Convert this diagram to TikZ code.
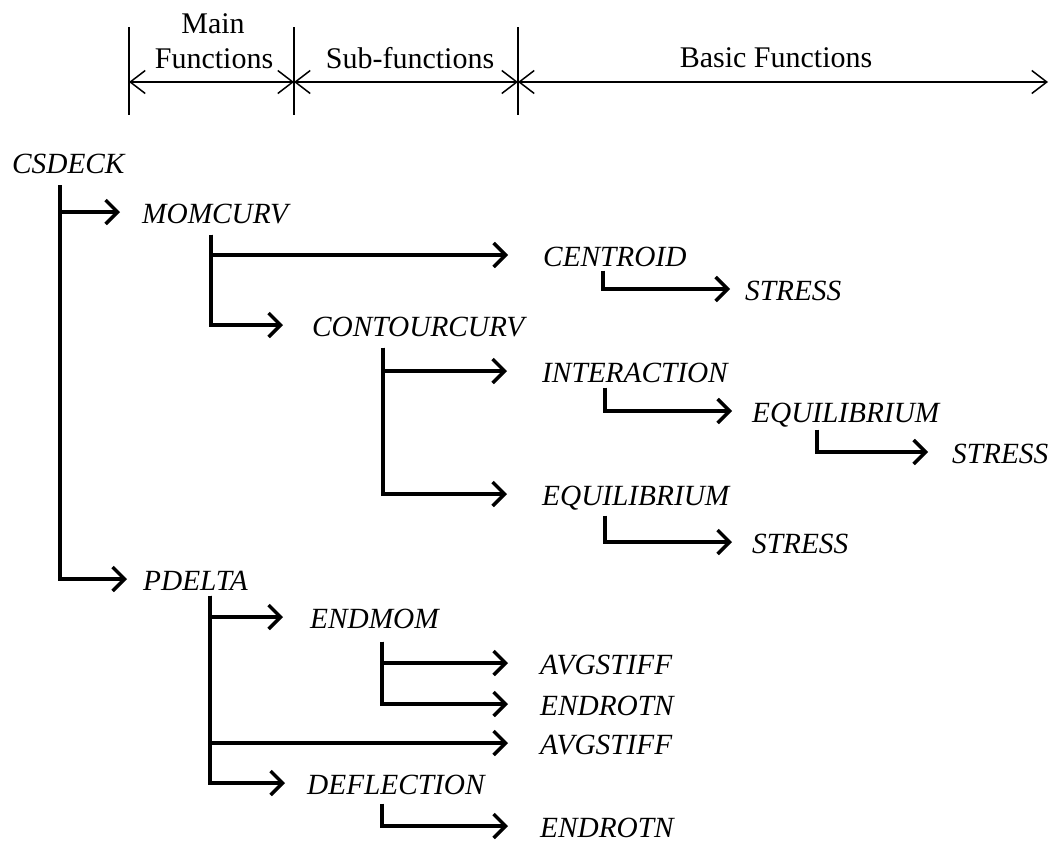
\documentclass[tikz,border=0pt]{standalone}
\usepackage{fontspec}
\setmainfont{Liberation Serif}
\usetikzlibrary{arrows.meta}
\begin{document}
\begin{tikzpicture}[x=1pt,y=-1pt,
  fn/.style={font=\fontsize{29.3}{35}\selectfont\itshape, inner sep=0pt, anchor=west, text height=23pt, text depth=0pt},
  hdr/.style={font=\fontsize{30}{36}\selectfont, inner sep=0pt, anchor=base},
  tree/.style={line width=3.4pt, -{Straight Barb[length=12pt,width=24pt]}},
  dimarrow/.style={line width=1.5pt, {Straight Barb[length=15pt,width=23pt]}-{Straight Barb[length=15pt,width=23pt]}},
  bar/.style={line width=1.5pt}]
\useasboundingbox (0,0) rectangle (1052,844);

% header
\coordinate (b1) at (129,82);
\coordinate (b2) at (294,82);
\coordinate (b3) at (518,82);
\coordinate (b4) at (1048,82);
\foreach \xx in {129,294,518} { \draw[bar] (\xx,27) -- (\xx,115); }
\draw[dimarrow] (b1) -- (b2);
\draw[dimarrow] (b2) -- (b3);
\draw[dimarrow] (b3) -- (b4);
\node[hdr] (hmain) at (213,33) {Main};
\node[hdr] (hfun) at (214,68) {Functions};
\node[hdr] (hsub) at (410,68) {Sub-functions};
\node[hdr] (hbasic) at (776,67) {Basic Functions};

% tree nodes
\node[fn] (csdeck) at (12,161.5) {CSDECK};
\node[fn] (momcurv) at (142,212) {MOMCURV};
\node[fn] (centroid) at (543,255) {CENTROID};
\node[fn] (stressA) at (745,289) {STRESS};
\node[fn] (contour) at (312,325) {CONTOURCURV};
\node[fn] (interact) at (542,371) {INTERACTION};
\node[fn] (equilA) at (752,411) {EQUILIBRIUM};
\node[fn] (stressB) at (952,452) {STRESS};
\node[fn] (equilB) at (542,494) {EQUILIBRIUM};
\node[fn] (stressC) at (752,542) {STRESS};
\node[fn] (pdelta) at (143,579) {PDELTA};
\node[fn] (endmom) at (310,617) {ENDMOM};
\node[fn] (avgA) at (540,663) {AVGSTIFF};
\node[fn] (endrotnA) at (540,704) {ENDROTN};
\node[fn] (avgB) at (540,743) {AVGSTIFF};
\node[fn] (deflect) at (307,783) {DEFLECTION};
\node[fn] (endrotnB) at (540,826) {ENDROTN};

% connectors
\draw[tree] ([xshift=48pt,yshift=-12pt]csdeck.south west) |- ([xshift=-22pt]momcurv.west);
\draw[tree] ([xshift=48pt,yshift=-12pt]csdeck.south west) |- ([xshift=-16pt]pdelta.west);

\draw[tree] ([xshift=69pt,yshift=-11pt]momcurv.south west) |- ([xshift=-35pt]centroid.west);
\draw[tree] ([xshift=69pt,yshift=-11pt]momcurv.south west) |- ([xshift=-29pt]contour.west);

\draw[tree] ([xshift=60pt,yshift=-4pt]centroid.south west) |- ([xshift=-15pt]stressA.west);

\draw[tree] ([xshift=71pt,yshift=-11pt]contour.south west) |- ([xshift=-35pt]interact.west);
\draw[tree] ([xshift=71pt,yshift=-11pt]contour.south west) |- ([xshift=-35pt]equilB.west);

\draw[tree] ([xshift=63pt,yshift=-5pt]interact.south west) |- ([xshift=-20pt]equilA.west);
\draw[tree] ([xshift=65pt,yshift=-7pt]equilA.south west) |- ([xshift=-24pt]stressB.west);
\draw[tree] ([xshift=63pt,yshift=-10pt]equilB.south west) |- ([xshift=-20pt]stressC.west);

\draw[tree] ([xshift=67pt,yshift=-5pt]pdelta.south west) |- ([xshift=-27pt]endmom.west);
\draw[tree] ([xshift=67pt,yshift=-5pt]pdelta.south west) |- ([xshift=-32pt]avgB.west);
\draw[tree] ([xshift=67pt,yshift=-5pt]pdelta.south west) |- ([xshift=-22pt]deflect.west);

\draw[tree] ([xshift=72pt,yshift=-13pt]endmom.south west) |- ([xshift=-32pt]avgA.west);
\draw[tree] ([xshift=72pt,yshift=-13pt]endmom.south west) |- ([xshift=-32pt]endrotnA.west);

\draw[tree] ([xshift=75pt,yshift=-9pt]deflect.south west) |- ([xshift=-32pt]endrotnB.west);
\end{tikzpicture}
\end{document}
